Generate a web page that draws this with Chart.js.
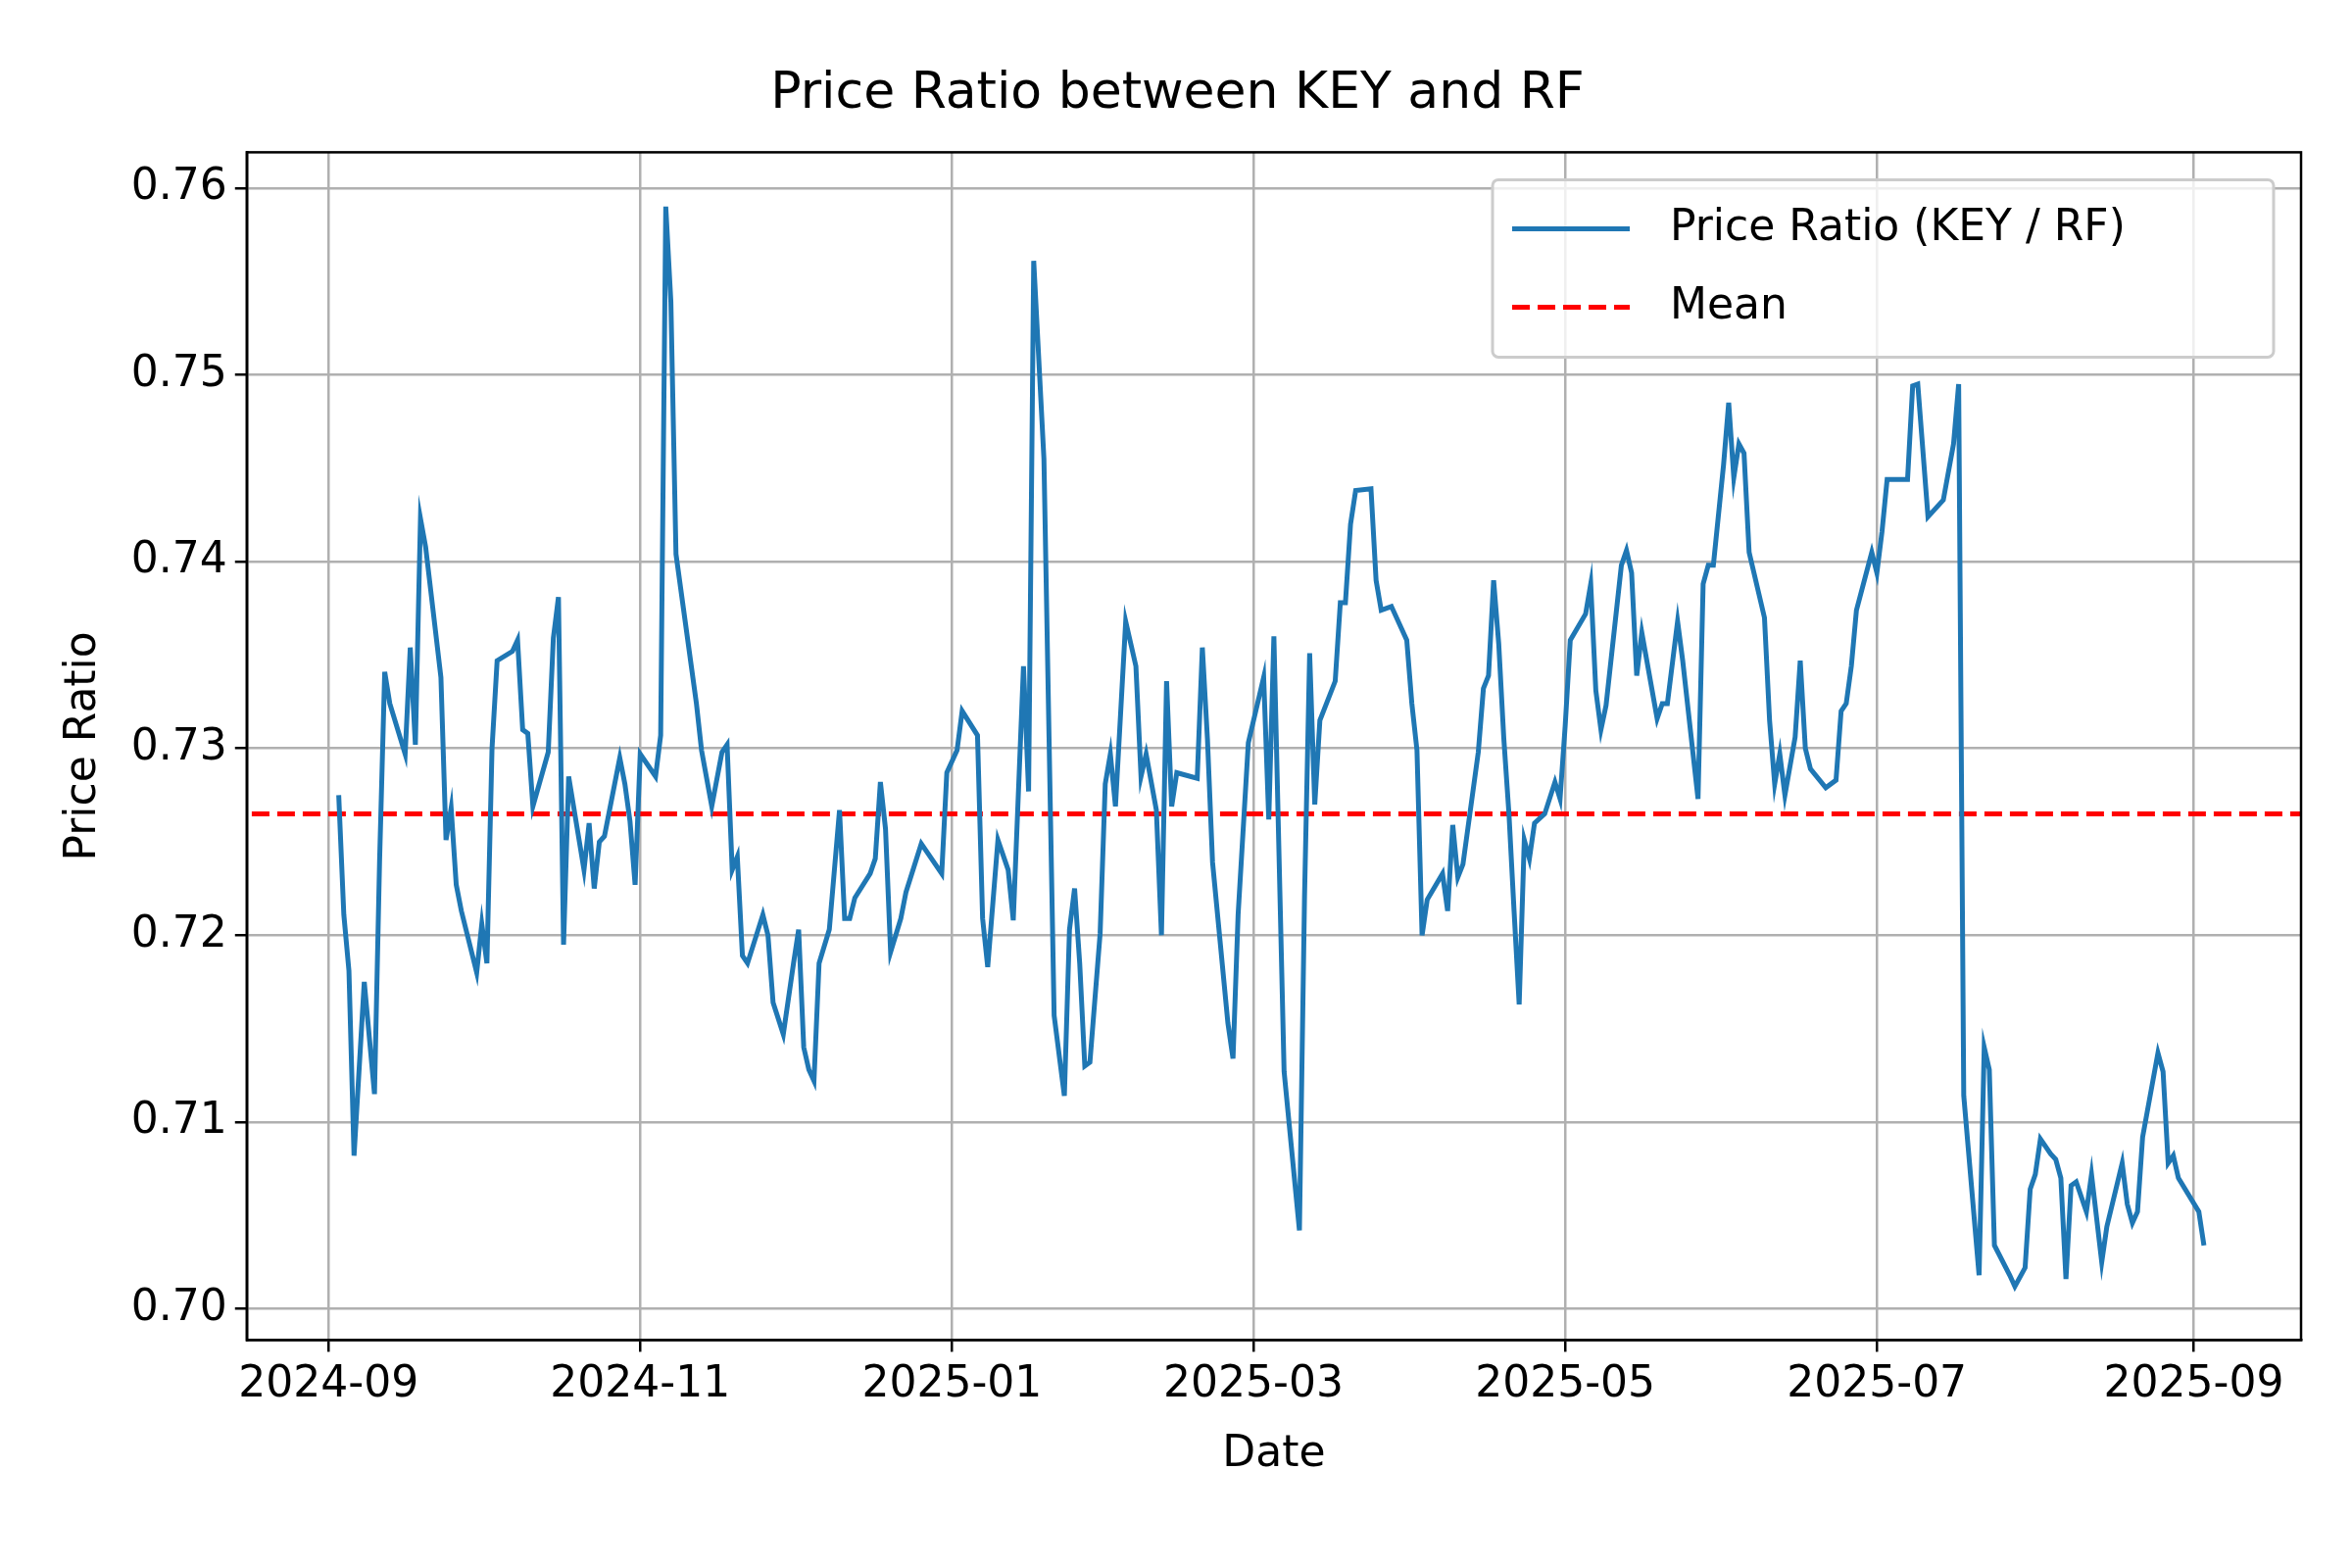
<!DOCTYPE html>
<html>
<head>
<meta charset="utf-8">
<script src="https://cdn.jsdelivr.net/npm/chart.js@4"></script>
<style>
  html, body { margin: 0; padding: 0; background: #fff; }
  #wrap { width: 2400px; height: 1600px; }
</style>
</head>
<body>
<div id="wrap"><canvas id="c" width="2400" height="1600"></canvas></div>
<script>
// days since 2024-09-01
const days = [2,3,4,5,7,9,10,11,12,15,16,17,18,19,22,23,24,25,26,29,30,31,32,33,36,37,38,39,40,43,44,45,46,47,50,51,52,53,54,57,58,59,60,61,64,65,66,67,68,71,72,73,75,77,78,79,80,81,82,85,86,87,89,91,92,93,94,95,96,98,100,101,102,103,106,107,108,109,110,112,113,116,120,121,123,124,127,128,129,131,133,134,136,137,138,140,141,142,144,145,146,147,148,149,151,152,153,154,156,158,159,160,162,163,164,165,166,170,171,172,173,176,177,178,180,183,184,185,187,190,191,192,193,194,197,198,199,200,201,204,205,206,208,211,212,213,214,215,218,219,220,221,222,225,226,227,228,229,230,231,232,233,234,235,236,238,240,241,242,243,246,247,248,249,250,253,254,255,256,257,260,261,262,264,265,268,269,270,271,273,274,275,276,277,278,281,282,283,284,285,287,288,289,290,293,295,296,297,298,299,302,303,304,305,309,310,311,313,316,318,319,320,323,324,325,326,329,330,332,333,334,335,337,338,339,340,341,342,344,345,347,348,351,352,353,354,355,358,359,360,361,362,366,367];
const ratio = [0.7275,0.7211,0.7181,0.7082,0.7175,0.7115,0.724,0.7341,0.7324,0.7297,0.7354,0.7302,0.7423,0.7408,0.7338,0.7251,0.7268,0.7227,0.7213,0.718,0.7206,0.7185,0.73,0.7347,0.7352,0.7358,0.731,0.7308,0.7269,0.7298,0.7359,0.7381,0.7195,0.7285,0.7235,0.726,0.7225,0.725,0.7253,0.7295,0.7281,0.7261,0.7227,0.7297,0.7285,0.7307,0.759,0.7539,0.7404,0.7344,0.7324,0.7299,0.7269,0.7298,0.7302,0.7235,0.7242,0.7189,0.7185,0.7211,0.72,0.7164,0.7147,0.7185,0.7203,0.714,0.7128,0.7122,0.7185,0.7203,0.7267,0.7209,0.7209,0.722,0.7233,0.7241,0.7282,0.7257,0.7191,0.7209,0.7223,0.7249,0.7233,0.7287,0.7299,0.732,0.7307,0.7209,0.7183,0.7251,0.7235,0.7208,0.7344,0.7277,0.7561,0.7455,0.7306,0.7157,0.7114,0.7203,0.7225,0.7185,0.713,0.7132,0.7201,0.7281,0.7297,0.7269,0.7368,0.7344,0.7285,0.7297,0.7267,0.72,0.7336,0.7269,0.7287,0.7284,0.7354,0.7305,0.7239,0.7153,0.7134,0.7211,0.7303,0.7338,0.7262,0.736,0.7127,0.7042,0.7221,0.7351,0.727,0.7315,0.7336,0.7378,0.7378,0.742,0.7438,0.7439,0.739,0.7374,0.7376,0.7358,0.7324,0.7299,0.72,0.7219,0.7233,0.7213,0.7259,0.7231,0.7238,0.7298,0.7332,0.7339,0.739,0.7356,0.7305,0.7265,0.7213,0.7163,0.7251,0.7241,0.726,0.7265,0.7282,0.7273,0.7312,0.7358,0.7372,0.7388,0.7331,0.731,0.7323,0.7398,0.7406,0.7394,0.7339,0.7362,0.7316,0.7324,0.7324,0.7368,0.7347,0.7273,0.7388,0.7398,0.7398,0.7452,0.7485,0.7445,0.7463,0.7458,0.7405,0.737,0.7315,0.7281,0.7297,0.7275,0.7306,0.7347,0.73,0.7289,0.7279,0.7283,0.732,0.7324,0.7344,0.7374,0.7405,0.7394,0.7416,0.7444,0.7444,0.7494,0.7495,0.7424,0.7433,0.7463,0.7495,0.7114,0.7018,0.714,0.7128,0.7034,0.7018,0.7012,0.7022,0.7064,0.7072,0.7091,0.7083,0.708,0.707,0.7016,0.7066,0.7068,0.7052,0.7072,0.7025,0.7044,0.7078,0.7056,0.7046,0.7052,0.7092,0.7137,0.7127,0.7078,0.7082,0.707,0.7052,0.7034];
const meanRatio = 0.7265;
const xTickDays = [0,61,122,181,242,303,365];
const xTickLabels = ['2024-09','2024-11','2025-01','2025-03','2025-05','2025-07','2025-09'];
const yTicks = [0.70,0.71,0.72,0.73,0.74,0.75,0.76];

const font = { family: 'DejaVu Sans', size: 44 };

// legend box inside the plot + full frame around the axes
const legendBox = {
  id: 'legendBox',
  afterDraw(chart) {
    const ctx = chart.ctx, a = chart.chartArea;
    ctx.save();
    ctx.strokeStyle = '#000'; ctx.lineWidth = 2.5;
    ctx.strokeRect(a.left, a.top, a.right - a.left, a.bottom - a.top);

    const w = 797, h = 181, x = a.right - w - 28, y = a.top + 28;
    ctx.fillStyle = 'rgba(255,255,255,0.8)';
    ctx.strokeStyle = '#cccccc';
    ctx.lineWidth = 3;
    ctx.beginPath(); ctx.roundRect(x, y, w, h, 6); ctx.fill(); ctx.stroke();
    ctx.font = '44px "DejaVu Sans"';
    ctx.fillStyle = '#000'; ctx.textBaseline = 'middle';
    ctx.lineWidth = 5;
    ctx.strokeStyle = '#1f77b4';
    ctx.beginPath(); ctx.moveTo(x + 20, y + 50); ctx.lineTo(x + 140, y + 50); ctx.stroke();
    ctx.fillText('Price Ratio (KEY / RF)', x + 181, y + 50);
    ctx.strokeStyle = '#ff0000'; ctx.setLineDash([18, 8]);
    ctx.beginPath(); ctx.moveTo(x + 20, y + 130); ctx.lineTo(x + 140, y + 130); ctx.stroke();
    ctx.setLineDash([]);
    ctx.fillText('Mean', x + 181, y + 130);
    ctx.restore();
  }
};

new Chart(document.getElementById('c'), {
  type: 'line',
  data: {
    datasets: [
      {
        data: days.map((d, i) => ({ x: d, y: ratio[i] })),
        borderColor: '#1f77b4', borderWidth: 5, pointRadius: 0, tension: 0
      },
      {
        data: [{ x: -20, y: meanRatio }, { x: 390, y: meanRatio }],
        borderColor: '#ff0000', borderWidth: 5, borderDash: [18, 8], pointRadius: 0
      }
    ]
  },
  options: {
    responsive: false, animation: false,
    layout: { padding: { left: 55, right: 52, top: 10, bottom: 85 } },
    plugins: {
      legend: { display: false },
      tooltip: { enabled: false },
      title: { display: true, text: 'Price Ratio between KEY and RF', color: '#000',
               font: { family: 'DejaVu Sans', size: 52, weight: 'normal' }, padding: { top: 55, bottom: 28 } }
    },
    scales: {
      x: {
        type: 'linear', min: -16, max: 386,
        afterBuildTicks: s => { s.ticks = xTickDays.map(v => ({ value: v })); },
        ticks: { color: '#000', font, maxRotation: 0, padding: 8,
                 callback: (v) => xTickLabels[xTickDays.indexOf(v)] },
        grid: { color: '#b0b0b0', lineWidth: 2.5, tickColor: '#000', tickLength: 12 },
        border: { color: '#000', width: 2.5 },
        title: { display: true, text: 'Date', color: '#000', font, padding: { top: 10 } }
      },
      y: {
        min: 0.69833, max: 0.76191,
        afterBuildTicks: s => { s.ticks = yTicks.map(v => ({ value: v })); },
        ticks: { color: '#000', font, padding: 8, callback: v => v.toFixed(2) },
        grid: { color: '#b0b0b0', lineWidth: 2.5, tickColor: '#000', tickLength: 12 },
        border: { color: '#000', width: 2.5 },
        title: { display: true, text: 'Price Ratio', color: '#000', font, padding: { bottom: 14 } }
      }
    }
  },
  plugins: [legendBox]
});
</script>
</body>
</html>
